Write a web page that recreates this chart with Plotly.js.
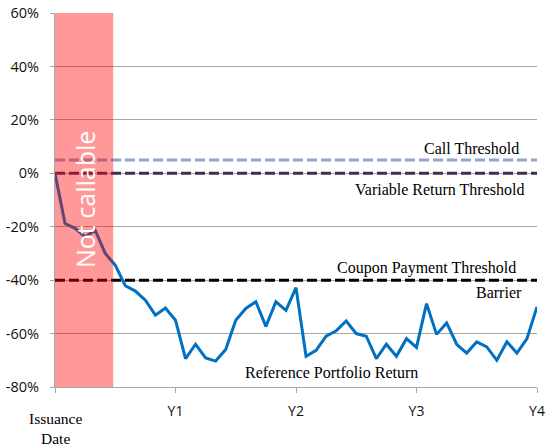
<!DOCTYPE html>
<html>
<head>
<meta charset="utf-8">
<script src="https://cdn.plot.ly/plotly-3.0.1.min.js"></script>
<style>html,body{margin:0;padding:0;background:#fff;}#chart{width:546px;height:447px;}</style>
</head>
<body>
<div id="chart"></div>
<script>
// Months since issuance (monthly observations over 4 years)
const months = [0,1,2,3,4,5,6,7,8,9,10,11,12,13,14,15,16,17,18,19,20,21,22,23,24,
  25,26,27,28,29,30,31,32,33,34,35,36,37,38,39,40,41,42,43,44,45,46,47,48];
// Reference portfolio return (%)
const portfolioReturn = [0,-18.8,-20.6,-23.8,-21.3,-30,-34.4,-42.1,-44.1,-47.5,-53.1,-50.4,-55,
  -69.4,-64,-69.1,-70.3,-66,-55,-50.6,-48.1,-57.3,-48.1,-51.3,-42.8,
  -68.5,-66.3,-61,-59,-55.3,-60,-61,-69.4,-64,-68.5,-61.9,-65.2,
  -48.8,-60.3,-56,-64,-67.3,-63.1,-65,-70,-63.1,-67.3,-61.9,-50];
// Thresholds (%)
const thresholdNames = ["Call Threshold","Variable Return Threshold","Coupon Payment Threshold"];
const thresholdValues = [5, 0, -40];
// Non-callable period (months)
const notCallableStart = 0;
const notCallableEnd = 5.8;
// Axis ticks
const xTickVals = [0,12,24,36,48];
const xTickText = ["","Y1","Y2","Y3","Y4"];
const yTickVals = [60,40,20,0,-20,-40,-60,-80];
const yTickText = ["60%","40%","20%","0%","-20%","-40%","-60%","-80%"];

const thresholdColors = ["#8da5cf","#403152","#000000"];
const xEnd = months[months.length-1];

const traces = thresholdValues.map((v,i)=>({
  x:[0,xEnd], y:[v,v], mode:"lines", name:thresholdNames[i],
  line:{color:thresholdColors[i], width:3, dash:"10px,4px"}, hoverinfo:"skip"
}));
traces.push({
  x:months, y:portfolioReturn, mode:"lines", name:"Reference Portfolio Return",
  line:{color:"#0070c0", width:3}
});

const L=55, R=9, T=13, B=60, W=546, H=447;
const pw=W-L-R, ph=H-T-B;
const px = p => (p-L)/pw;
const py = p => (H-B-p)/ph;
const serif = {family:"Liberation Serif, Times New Roman, serif", size:16, color:"#000"};

const layout = {
  width:W, height:H,
  margin:{l:L, r:R, t:T, b:B},
  paper_bgcolor:"#fff", plot_bgcolor:"#fff",
  showlegend:false,
  xaxis:{
    range:[0,xEnd], tickmode:"array", tickvals:xTickVals, ticktext:xTickText,
    showgrid:false, zeroline:false, showline:true, linecolor:"#a6a6a6", linewidth:1,
    ticks:"outside", ticklen:5, tickcolor:"#a6a6a6",
    tickfont:{family:"Open Sans, sans-serif", size:14, color:"#111"},
    ticklabelstandoff:6, fixedrange:true
  },
  yaxis:{
    range:[-80,60], tickmode:"array", tickvals:yTickVals, ticktext:yTickText,
    showgrid:true, gridcolor:"#a6a6a6", gridwidth:1, zeroline:false,
    showline:true, linecolor:"#a6a6a6", linewidth:1,
    ticks:"outside", ticklen:4, tickcolor:"#a6a6a6",
    tickfont:{family:"Open Sans, sans-serif", size:14.5, color:"#111"},
    ticklabelstandoff:8, fixedrange:true
  },
  shapes:[{
    type:"rect", xref:"x", yref:"paper", x0:notCallableStart, x1:notCallableEnd, y0:0, y1:1,
    fillcolor:"#ff0000", opacity:0.4, line:{width:0}, layer:"above"
  }],
  annotations:[
    {text:"Not callable", xref:"paper", yref:"paper", x:px(85), y:py(200), textangle:-90,
     showarrow:false, font:{family:"Open Sans, sans-serif", size:25, color:"#fff"}, xanchor:"center", yanchor:"middle"},
    {text:thresholdNames[0], xref:"paper", yref:"paper", x:px(521), y:py(148), xanchor:"right", yanchor:"middle", showarrow:false, font:serif},
    {text:thresholdNames[1], xref:"paper", yref:"paper", x:px(526), y:py(189), xanchor:"right", yanchor:"middle", showarrow:false, font:serif},
    {text:thresholdNames[2], xref:"paper", yref:"paper", x:px(518), y:py(268), xanchor:"right", yanchor:"middle", showarrow:false, font:serif},
    {text:"Barrier", xref:"paper", yref:"paper", x:px(524), y:py(292), xanchor:"right", yanchor:"middle", showarrow:false, font:serif},
    {text:"Reference Portfolio Return", xref:"paper", yref:"paper", x:px(243), y:py(372), xanchor:"left", yanchor:"middle", showarrow:false, font:serif},
    {text:"Issuance<br>Date", xref:"paper", yref:"paper", x:px(55), y:py(428), xanchor:"center", yanchor:"middle", showarrow:false,
     font:{family:"Liberation Serif, Times New Roman, serif", size:15.5, color:"#000"}}
  ]
};

Plotly.newPlot("chart", traces, layout, {displayModeBar:false, staticPlot:true});
</script>
</body>
</html>
